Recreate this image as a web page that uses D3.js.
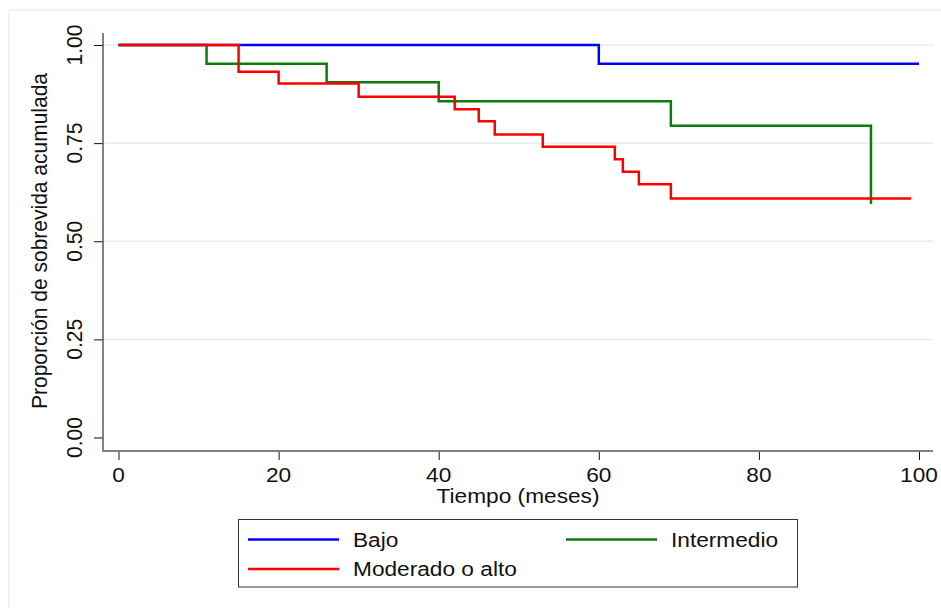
<!DOCTYPE html>
<html>
<head>
<meta charset="utf-8">
<script src="https://cdn.jsdelivr.net/npm/d3@7"></script>
<style>
  body { margin: 0; background: #fff; }
  text { font-family: "Liberation Sans", Arial, sans-serif; fill: #111; }
</style>
</head>
<body>
<svg id="chart" width="941" height="608"></svg>
<script>
// survival data (step functions)
const bajoT = [0, 60, 100];
const bajoS = [1, 0.952, 0.952];
const interT = [0, 11, 26, 40, 69, 94];
const interS = [1, 0.952, 0.905, 0.857, 0.794, 0.595];
const modT = [0, 15, 20, 30, 42, 45, 47, 53, 62, 63, 65, 69, 99];
const modS = [1, 0.932, 0.902, 0.868, 0.836, 0.806, 0.772, 0.741, 0.709, 0.677, 0.645, 0.609, 0.609];

const xTicks = [0, 20, 40, 60, 80, 100];
const yTicks = [0, 0.25, 0.5, 0.75, 1];
const gridTicks = [0.25, 0.5, 0.75, 1];

const names = ["Bajo", "Intermedio", "Moderado o alto"];
const colors = ["#0000ff", "#0a7d0a", "#ff0000"];

const svg = d3.select("#chart");
const SX = 1.08; // text looks a bit stretched sideways
const fs = 21;

// plot region
const pLeft = 103, pRight = 933, pTop = 33, pBottom = 451;
const x = d3.scaleLinear().domain([0, 100]).range([118.5, 919]);
const y = d3.scaleLinear().domain([0, 1]).range([437.5, 45]);

function label(g, px, py, s, anchor, rot) {
	g.append("g")
		.attr("transform", `translate(${px},${py}) scale(${SX},1)` + (rot ? " rotate(-90)" : ""))
		.append("text")
		.attr("text-anchor", anchor)
		.style("font-size", fs + "px")
		.text(s);
}

// outer light frame
svg.append("rect").attr("x", 9).attr("y", 10).attr("width", 960).attr("height", 640)
	.attr("fill", "none").attr("stroke", "#e9eff1").attr("stroke-width", 1.5);

// gridlines
svg.append("g").selectAll("line").data(gridTicks).join("line")
	.attr("x1", pLeft).attr("x2", 934)
	.attr("y1", d => y(d)).attr("y2", d => y(d))
	.attr("stroke", "#e8eef0").attr("stroke-width", 1.5);

// y axis ticks
const yAxis = svg.append("g").attr("transform", `translate(${pLeft},0)`)
	.call(d3.axisLeft(y).tickValues(yTicks).tickSize(9));
yAxis.select(".domain").remove();
yAxis.selectAll("text").remove();
yAxis.selectAll("line").attr("stroke", "#111");
yTicks.forEach(v => label(svg, 82, y(v), d3.format(".2f")(v), "middle", true));

// x axis ticks
const xAxis = svg.append("g").attr("transform", `translate(0,${pBottom})`)
	.call(d3.axisBottom(x).tickValues(xTicks).tickSize(9));
xAxis.select(".domain").remove();
xAxis.selectAll("text").remove();
xAxis.selectAll("line").attr("stroke", "#111");
xTicks.forEach(v => label(svg, x(v), 482, String(v), "middle", false));

// axis lines
svg.append("line").attr("x1", pLeft).attr("x2", pLeft).attr("y1", pTop).attr("y2", pBottom + 1)
	.attr("stroke", "#5a5a5a").attr("stroke-width", 1.5);
svg.append("line").attr("x1", pLeft).attr("x2", pRight).attr("y1", pBottom).attr("y2", pBottom)
	.attr("stroke", "#808080").attr("stroke-width", 2);

// titles
label(svg, 518, 503, "Tiempo (meses)", "middle", false);
label(svg, 47, 241, "Proporción de sobrevida acumulada", "middle", true);

// curves
const line = d3.line().x(d => x(d[0])).y(d => y(d[1])).curve(d3.curveStepAfter);
const series = [
	d3.zip(bajoT, bajoS),
	d3.zip(interT, interS),
	d3.zip(modT, modS)
];
series.forEach((pts, i) => {
	svg.append("path").datum(pts)
		.attr("d", line)
		.attr("fill", "none")
		.attr("stroke", colors[i])
		.attr("stroke-width", 2.5);
});

// legend
const lg = svg.append("g");
lg.append("rect").attr("x", 238.5).attr("y", 519.5).attr("width", 559).attr("height", 67.5)
	.attr("fill", "#fff").attr("stroke", "#333").attr("stroke-width", 1);
const legPos = [[248, 539.5], [566, 539.5], [248, 569]];
legPos.forEach((p, i) => {
	lg.append("line").attr("x1", p[0]).attr("x2", p[0] + 91).attr("y1", p[1]).attr("y2", p[1])
		.attr("stroke", colors[i]).attr("stroke-width", 2.5);
	label(lg, p[0] + 105, p[1] + 7, names[i], "start", false);
});
</script>
</body>
</html>
